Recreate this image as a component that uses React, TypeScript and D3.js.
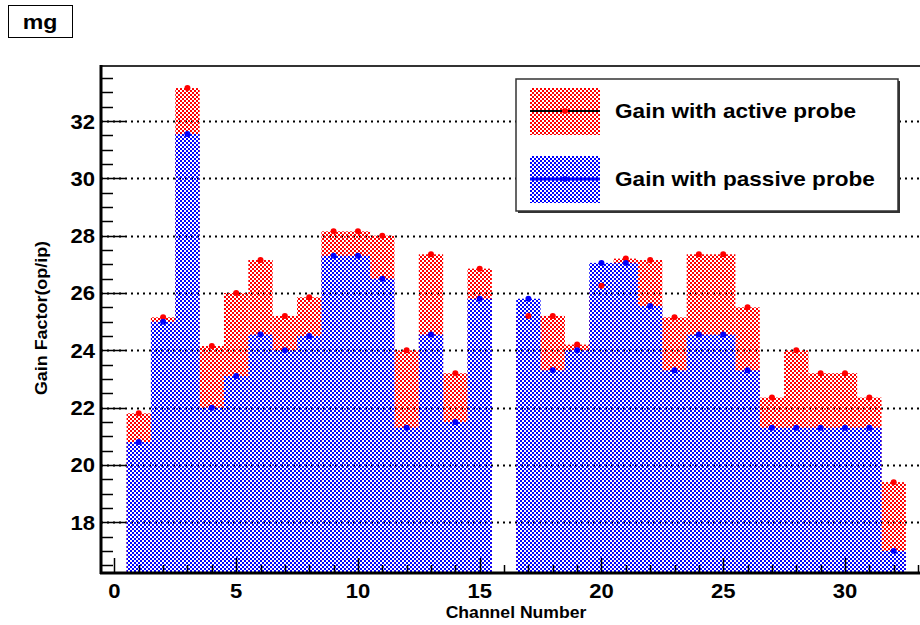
import { useEffect, useRef } from "react";
import * as d3 from "d3";

// channel numbers (bin centres)
const channels = d3.range(1, 33);

// gain with active probe (channel 16 has no entry)
const activeGain = [
  21.8, 25.15, 33.15, 24.15, 26.0, 27.15, 25.2, 25.85, 28.15, 28.15, 28.0,
  24.0, 27.35, 23.2, 26.85, null, 25.2, 25.2, 24.2, 26.25, 27.2, 27.15, 25.15,
  27.35, 27.35, 25.5, 22.35, 24.0, 23.2, 23.2, 22.35, 19.4,
];

// gain with passive probe
const passiveGain = [
  20.8, 25.0, 31.55, 22.0, 23.1, 24.55, 24.0, 24.5, 27.3, 27.3, 26.5, 21.3,
  24.55, 21.5, 25.8, null, 25.8, 23.3, 24.0, 27.05, 27.05, 25.55, 23.3, 24.55,
  24.55, 23.3, 21.3, 21.3, 21.3, 21.3, 21.3, 17.0,
];

const yTicks = [18, 20, 22, 24, 26, 28, 30, 32];
const xTicks = [0, 5, 10, 15, 20, 25, 30];
const legendLabels = ["Gain with active probe", "Gain with passive probe"];

function App() {
  const ref = useRef(null);

  useEffect(() => {
    const width = 920;
    const height = 625;
    const left = 101;
    const top = 66;
    const bottom = 573;
    const right = 929;
    const font = "'Liberation Sans', Arial, Helvetica, sans-serif";

    const svg = d3
      .select(ref.current)
      .append("svg")
      .attr("width", width)
      .attr("height", height)
      .style("position", "absolute")
      .style("left", 0)
      .style("top", 0)
      .style("background", "white");

    const x = d3.scaleLinear().domain([-0.55, 33.45]).range([left, right]);
    const y = d3.scaleLinear().domain([16.23, 33.92]).range([bottom, top]);

    // bold text, stretched a little sideways like the original rendering
    const label = (g, tx, ty, size, anchor, str, rot = 0, sx = 1.1) =>
      g
        .append("text")
        .attr("transform", `translate(${tx},${ty}) rotate(${rot}) scale(${sx},1)`)
        .attr("text-anchor", anchor)
        .attr("font-family", font)
        .attr("font-weight", "bold")
        .attr("font-size", size)
        .text(str);

    // dotted fill patterns, like ROOT's fill style 3001
    const defs = svg.append("defs");
    const makePattern = (id, color) => {
      const p = defs
        .append("pattern")
        .attr("id", id)
        .attr("patternUnits", "userSpaceOnUse")
        .attr("width", 4)
        .attr("height", 4);
      p.append("rect").attr("x", 0).attr("y", 0).attr("width", 2).attr("height", 2).attr("fill", color);
      p.append("rect").attr("x", 2).attr("y", 2).attr("width", 2).attr("height", 2).attr("fill", color);
    };
    makePattern("redDots", "#ff0000");
    makePattern("blueDots", "#0000ff");

    defs
      .append("clipPath")
      .attr("id", "plotClip")
      .append("rect")
      .attr("x", left)
      .attr("y", top)
      .attr("width", right - left)
      .attr("height", bottom - top);

    // title box
    svg
      .append("rect")
      .attr("x", 8.5)
      .attr("y", 5.5)
      .attr("width", 64)
      .attr("height", 32)
      .attr("fill", "white")
      .attr("stroke", "black");
    label(svg, 40, 29, 21, "middle", "mg");

    // horizontal dotted grid
    svg
      .append("g")
      .selectAll("line")
      .data(yTicks)
      .enter()
      .append("line")
      .attr("x1", left)
      .attr("x2", width)
      .attr("y1", (d) => Math.round(y(d)) + 0.5)
      .attr("y2", (d) => Math.round(y(d)) + 0.5)
      .attr("stroke", "black")
      .attr("stroke-width", 2)
      .attr("stroke-dasharray", "2,4");

    const plot = svg.append("g").attr("clip-path", "url(#plotClip)");

    const bars = (values, fill) =>
      plot
        .append("g")
        .selectAll("rect")
        .data(channels.filter((c, i) => values[i] != null))
        .enter()
        .append("rect")
        .attr("x", (c) => x(c - 0.5))
        .attr("width", (c) => x(c + 0.5) - x(c - 0.5))
        .attr("y", (c) => y(values[c - 1]))
        .attr("height", (c) => bottom - y(values[c - 1]))
        .attr("fill", fill);

    bars(activeGain, "url(#redDots)");
    bars(passiveGain, "url(#blueDots)");

    const markers = (values, color) =>
      plot
        .append("g")
        .selectAll("circle")
        .data(channels.filter((c, i) => values[i] != null))
        .enter()
        .append("circle")
        .attr("cx", (c) => x(c))
        .attr("cy", (c) => y(values[c - 1]))
        .attr("r", 3)
        .attr("fill", color);

    markers(activeGain, "#ff0000");
    markers(passiveGain, "#0000ff");

    // frame
    svg
      .append("line")
      .attr("x1", left)
      .attr("x2", width)
      .attr("y1", top)
      .attr("y2", top)
      .attr("stroke", "#333")
      .attr("stroke-width", 2);

    // y axis
    const yAxis = svg.append("g");
    const yMinor = d3.range(16.5, 33.9, 0.5);
    yAxis
      .selectAll("line.minor")
      .data(yMinor)
      .enter()
      .append("line")
      .attr("x1", left)
      .attr("x2", (d) => (d % 2 === 0 ? left + 24 : left + 12))
      .attr("y1", (d) => Math.round(y(d)) + 0.5)
      .attr("y2", (d) => Math.round(y(d)) + 0.5)
      .attr("stroke", "black")
      .attr("stroke-width", 1.5);
    yAxis
      .append("line")
      .attr("x1", left)
      .attr("x2", left)
      .attr("y1", top - 1)
      .attr("y2", bottom + 1)
      .attr("stroke", "black")
      .attr("stroke-width", 3);
    yTicks.forEach((d) => label(yAxis, left - 6, y(d) + 7.5, 21, "end", d, 0, 1.05));

    // x axis
    const xAxis = svg.append("g");
    xAxis
      .selectAll("line")
      .data(d3.range(0, 34))
      .enter()
      .append("line")
      .attr("x1", (d) => Math.round(x(d)) + 0.5)
      .attr("x2", (d) => Math.round(x(d)) + 0.5)
      .attr("y1", bottom)
      .attr("y2", (d) => (d % 5 === 0 ? bottom - 15 : bottom - 8))
      .attr("stroke", "black")
      .attr("stroke-width", 1.5);
    xAxis
      .append("line")
      .attr("x1", left - 1)
      .attr("x2", width)
      .attr("y1", bottom)
      .attr("y2", bottom)
      .attr("stroke", "black")
      .attr("stroke-width", 3);
    xTicks.forEach((d) => label(xAxis, x(d), 598, 21, "middle", d, 0, 1.05));

    // axis titles
    label(svg, 516, 618, 16, "middle", "Channel Number");
    label(svg, 47, 318, 16, "middle", "Gain Factor(op/ip)", -90, 1.12);

    // legend
    const lg = svg.append("g");
    lg.append("rect")
      .attr("x", 518)
      .attr("y", 81)
      .attr("width", 382)
      .attr("height", 132)
      .attr("fill", "#333");
    lg.append("rect")
      .attr("x", 516)
      .attr("y", 79)
      .attr("width", 382)
      .attr("height", 132)
      .attr("fill", "white")
      .attr("stroke", "#333")
      .attr("stroke-width", 1.5);

    const entries = [
      { label: legendLabels[0], fill: "url(#redDots)", color: "#ff0000", line: "black", lw: 2, cy: 111 },
      { label: legendLabels[1], fill: "url(#blueDots)", color: "#0000ff", line: "#0000ff", lw: 3, cy: 179 },
    ];
    entries.forEach((e) => {
      lg.append("rect")
        .attr("x", 530)
        .attr("y", e.cy - 23)
        .attr("width", 70)
        .attr("height", 47)
        .attr("fill", e.fill);
      lg.append("line")
        .attr("x1", 530)
        .attr("x2", 600)
        .attr("y1", e.cy)
        .attr("y2", e.cy)
        .attr("stroke", e.line)
        .attr("stroke-width", e.lw);
      lg.append("circle").attr("cx", 565).attr("cy", e.cy).attr("r", 3).attr("fill", e.color);
      label(lg, 615, e.cy + 7, 20, "start", e.label, 0, 1.13);
    });
  }, []);

  return <div ref={ref}></div>;
}

export default App;
